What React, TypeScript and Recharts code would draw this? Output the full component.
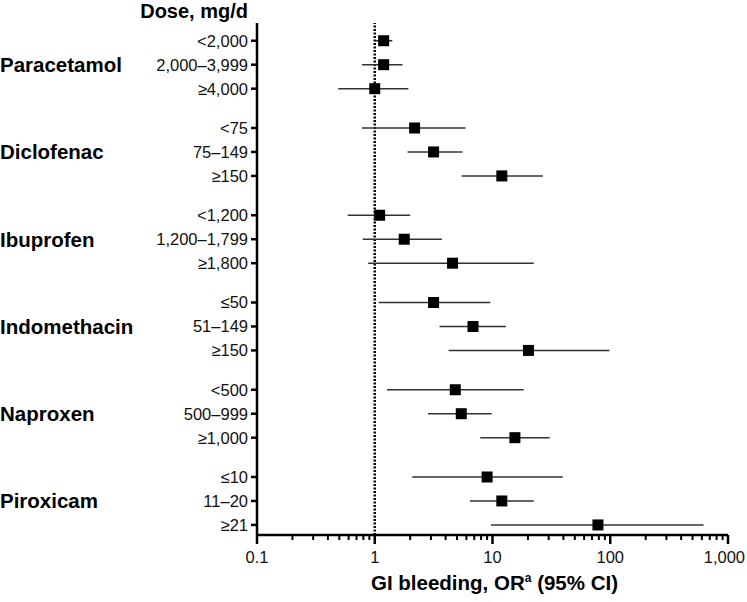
import {
  ErrorBar,
  ReferenceLine,
  Scatter,
  ScatterChart,
  XAxis,
  YAxis,
} from "recharts";

const drugs = ["Paracetamol", "Diclofenac", "Ibuprofen", "Indomethacin", "Naproxen", "Piroxicam"];

const doseLabels = [
  "<2,000", "2,000–3,999", "≥4,000",
  "<75", "75–149", "≥150",
  "<1,200", "1,200–1,799", "≥1,800",
  "≤50", "51–149", "≥150",
  "<500", "500–999", "≥1,000",
  "≤10", "11–20", "≥21",
];

const oddsRatio = [1.19, 1.19, 1.0, 2.18, 3.16, 12.0, 1.1, 1.78, 4.58, 3.16, 6.83, 20.2, 4.83, 5.43, 15.5, 9.0, 12.0, 78.6];
const ciLower = [1.02, 0.78, 0.49, 0.78, 1.9, 5.47, 0.59, 0.79, 0.88, 1.08, 3.55, 4.24, 1.27, 2.83, 7.87, 2.08, 6.43, 9.7];
const ciUpper = [1.41, 1.72, 1.93, 5.9, 5.56, 26.8, 2.0, 3.72, 22.4, 9.6, 13.0, 98.5, 18.4, 9.84, 30.6, 39.5, 22.4, 620];

const majorTicks = [0.1, 1, 10, 100, 1000];
const minorSteps = [2, 3, 4, 5, 6, 7, 8, 9];

const FONT = "'Liberation Sans', Arial, Helvetica, sans-serif";
const GROUP_STEP = 3.64;

// row position on the y axis: three rows per drug plus a gap
const rowPos = doseLabels.map((_, i) => Math.floor(i / 3) * GROUP_STEP + (i % 3));

const data = doseLabels.map((label, i) => ({
  label,
  row: rowPos[i],
  or: oddsRatio[i],
  err: [oddsRatio[i] - ciLower[i], ciUpper[i] - oddsRatio[i]],
}));

const xTicks = [
  ...majorTicks,
  ...majorTicks.slice(0, -1).flatMap((d) => minorSteps.map((m) => +(d * m).toPrecision(3))),
];

const fmtMajor = (v: number) => (v >= 1000 ? v.toLocaleString("en-US") : String(v));

function XTick(props: any) {
  const { x, y, payload } = props;
  const v = payload.value;
  const major = majorTicks.includes(v);
  // last label would run off the right edge, keep it inside the frame
  const last = v === majorTicks[majorTicks.length - 1];
  return (
    <g>
      <line x1={x} x2={x} y1={y} y2={y + (major ? 9 : 5)} stroke="#000" strokeWidth={major ? 2.5 : 2} />
      {major && (
        <text
          x={last ? 745 : x}
          y={y + 28}
          textAnchor={last ? "end" : "middle"}
          fontSize={16.5}
          fontFamily={FONT}
          fill="#111"
        >
          {fmtMajor(v)}
        </text>
      )}
    </g>
  );
}

function YTick(props: any) {
  const { x, y, payload } = props;
  const idx = rowPos.indexOf(payload.value);
  return (
    <g>
      <line x1={x - 6} x2={x} y1={y} y2={y} stroke="#000" strokeWidth={2.5} />
      <text x={x - 9} y={y} dy="0.36em" textAnchor="end" fontSize={16.5} fontFamily={FONT} fill="#111">
        {doseLabels[idx]}
      </text>
      {idx % 3 === 1 && (
        <text x={0} y={y} dy="0.36em" fontSize={20.5} fontWeight="bold" fontFamily={FONT} fill="#000">
          {drugs[Math.floor(idx / 3)]}
        </text>
      )}
    </g>
  );
}

function Square(props: any) {
  const { cx, cy } = props;
  return <rect x={cx - 5.5} y={cy - 5.5} width={11} height={11} fill="#000" />;
}

export default function App() {
  return (
    <div style={{ position: "absolute", left: 0, top: 0, background: "#fff" }}>
      <ScatterChart width={747} height={602} margin={{ top: 23, right: 19, bottom: 7, left: 0 }}>
        <XAxis
          type="number"
          dataKey="or"
          scale="log"
          domain={[0.1, 1000]}
          ticks={xTicks}
          interval={0}
          allowDataOverflow
          height={60}
          tickSize={0}
          tickMargin={0}
          tickLine={false}
          tick={<XTick />}
          axisLine={{ stroke: "#000", strokeWidth: 2.5 }}
          label={{
            content: ({ viewBox }: any) => (
              <text
                x={viewBox.x + viewBox.width / 2 + 2}
                y={viewBox.y + 55}
                textAnchor="middle"
                fontSize={20.5}
                fontWeight="bold"
                fontFamily={FONT}
                fill="#000"
              >
                GI bleeding, OR
                <tspan fontSize={12} dy={-8}>a</tspan>
                <tspan dy={8}> (95% CI)</tspan>
              </text>
            ),
          }}
        />
        <YAxis
          type="number"
          dataKey="row"
          reversed
          domain={[-0.74, 20.62]}
          ticks={rowPos}
          interval={0}
          width={257}
          tickSize={0}
          tickMargin={0}
          tickLine={false}
          tick={<YTick />}
          axisLine={{ stroke: "#000", strokeWidth: 2.5 }}
          label={{
            content: ({ viewBox }: any) => (
              <text
                x={viewBox.x + viewBox.width - 9}
                y={viewBox.y - 5}
                textAnchor="end"
                fontSize={20}
                fontWeight="bold"
                fontFamily={FONT}
                fill="#000"
              >
                Dose, mg/d
              </text>
            ),
          }}
        />
        <ReferenceLine x={1} stroke="#000" strokeWidth={2.5} strokeDasharray="2 1.5" />
        <Scatter data={data} shape={<Square />} isAnimationActive={false}>
          <ErrorBar dataKey="err" direction="x" width={0} stroke="#333" strokeWidth={1.6} />
        </Scatter>
      </ScatterChart>
    </div>
  );
}
